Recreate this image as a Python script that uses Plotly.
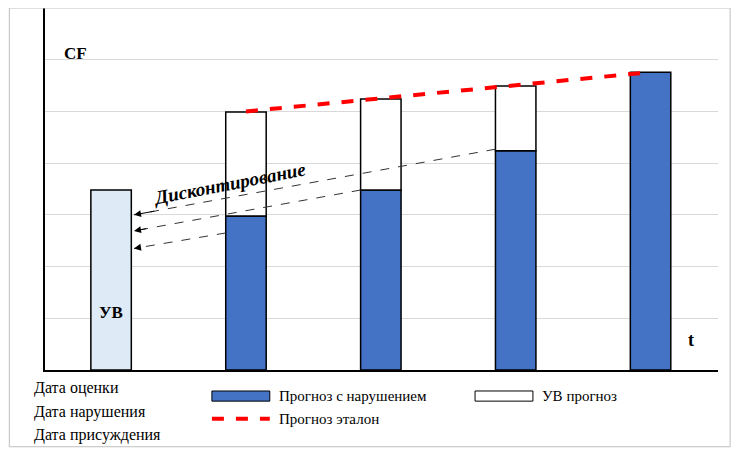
import plotly.graph_objects as go

# bar positions (period index) and values, CF units
periods = [0, 1, 2, 3, 4]
uv_value = 3.48
violation_forecast = [None, 2.98, 3.48, 4.24, 5.76]
uv_forecast_top = [None, 4.99, 5.24, 5.49, None]
reference_x = [1, 4]
reference_y = [5.0, 5.76]

# discount arrows: (from x, from y) -> (to x, to y)
arrow_from_x = [2.85, 1.85, 0.85]
arrow_from_y = [4.27, 3.48, 2.65]
arrow_to_x = [0.17, 0.17, 0.17]
arrow_to_y = [3.0, 2.69, 2.35]

date_labels = ["Дата оценки", "Дата нарушения", "Дата присуждения"]

FONT = "Liberation Serif"
BLUE = "#4472c4"
W = 0.30

fig = go.Figure()

fig.add_trace(go.Bar(x=[0], y=[uv_value], width=W, marker=dict(color="#deebf7", line=dict(color="black", width=1.5)),
                     showlegend=False))
bx = [p for p, v in zip(periods, violation_forecast) if v is not None]
by = [v for v in violation_forecast if v is not None]
fig.add_trace(go.Bar(x=bx, y=by, width=W, marker=dict(color=BLUE, line=dict(color="black", width=1.5)),
                     showlegend=False))
wx = [p for p, v in zip(periods, uv_forecast_top) if v is not None]
wbase = [violation_forecast[p] for p in wx]
wy = [uv_forecast_top[p] - violation_forecast[p] for p in wx]
fig.add_trace(go.Bar(x=wx, y=wy, base=wbase, width=W, marker=dict(color="white", line=dict(color="black", width=1.5)),
                     showlegend=False))
fig.add_trace(go.Scatter(x=reference_x, y=reference_y, mode="lines",
                         line=dict(color="#ff0000", width=4, dash="dash"), showlegend=False))

for fx, fy, tx, ty in zip(arrow_from_x, arrow_from_y, arrow_to_x, arrow_to_y):
    # dashed shaft, then a short annotation arrow for the head only
    fig.add_shape(type="line", x0=fx, y0=fy, x1=tx, y1=ty, line=dict(color="#333", width=1, dash="dash"))
    fig.add_annotation(x=tx, y=ty, ax=tx + 0.06 * (fx - tx), ay=ty + 0.06 * (fy - ty),
                       xref="x", yref="y", axref="x", ayref="y",
                       showarrow=True, arrowhead=2, arrowsize=1.4, arrowwidth=1, arrowcolor="black", text="")

fig.add_annotation(x=0, y=1.12, text="<b>УВ</b>", showarrow=False, font=dict(family=FONT, size=17, color="black"))
fig.add_annotation(x=0.88, y=3.6, text="<b><i>Дисконтирование</i></b>", showarrow=False, textangle=-11,
                   font=dict(family=FONT, size=19, color="black"))
fig.add_annotation(xref="paper", yref="paper", x=0.025, y=0.906, text="<b>CF</b>", showarrow=False,
                   font=dict(family=FONT, size=17, color="black"))
fig.add_annotation(xref="paper", yref="paper", x=0.968, y=0.05, text="<b>t</b>", showarrow=False,
                   font=dict(family=FONT, size=18, color="black"))

for i, lab in enumerate(date_labels):
    fig.add_annotation(xref="paper", yref="paper", x=-0.02, y=-0.05 - i * 0.065, text=lab, showarrow=False,
                       xanchor="left", yanchor="middle", font=dict(family=FONT, size=16, color="black"))

# legend drawn by hand
fig.add_shape(type="rect", xref="paper", yref="paper", x0=0.248, x1=0.334, y0=-0.086, y1=-0.058,
              fillcolor=BLUE, line=dict(color="black", width=1))
fig.add_annotation(xref="paper", yref="paper", x=0.345, y=-0.072, text="Прогноз с нарушением", showarrow=False,
                   xanchor="left", yanchor="middle", font=dict(family=FONT, size=15, color="black"))
fig.add_shape(type="rect", xref="paper", yref="paper", x0=0.639, x1=0.725, y0=-0.086, y1=-0.058,
              fillcolor="white", line=dict(color="black", width=1))
fig.add_annotation(xref="paper", yref="paper", x=0.735, y=-0.072, text="УВ прогноз", showarrow=False,
                   xanchor="left", yanchor="middle", font=dict(family=FONT, size=15, color="black"))
fig.add_shape(type="line", xref="paper", yref="paper", x0=0.248, x1=0.334, y0=-0.135, y1=-0.135,
              line=dict(color="#ff0000", width=4, dash="dash"))
fig.add_annotation(xref="paper", yref="paper", x=0.345, y=-0.135, text="Прогноз эталон", showarrow=False,
                   xanchor="left", yanchor="middle", font=dict(family=FONT, size=15, color="black"))

# outer frame
fig.add_shape(type="rect", xref="paper", yref="paper", x0=-0.053, x1=1.018, y0=-0.212, y1=1.0,
              line=dict(color="#bfbfbf", width=1))

# page body adds an 8px margin, so the figure is sized to fit inside it
fig.update_layout(
    width=724, height=440, margin=dict(l=37, r=14, t=0, b=78),
    plot_bgcolor="white", paper_bgcolor="white", barmode="overlay",
    xaxis=dict(range=[-0.49, 4.5], showticklabels=False, showgrid=False, zeroline=False,
               showline=True, linecolor="black", linewidth=1.5),
    yaxis=dict(range=[0, 7], dtick=1, showticklabels=False, showgrid=True, gridcolor="#d9d9d9",
               zeroline=False, showline=True, linecolor="black", linewidth=1.5),
)

fig.write_html("out.html")
